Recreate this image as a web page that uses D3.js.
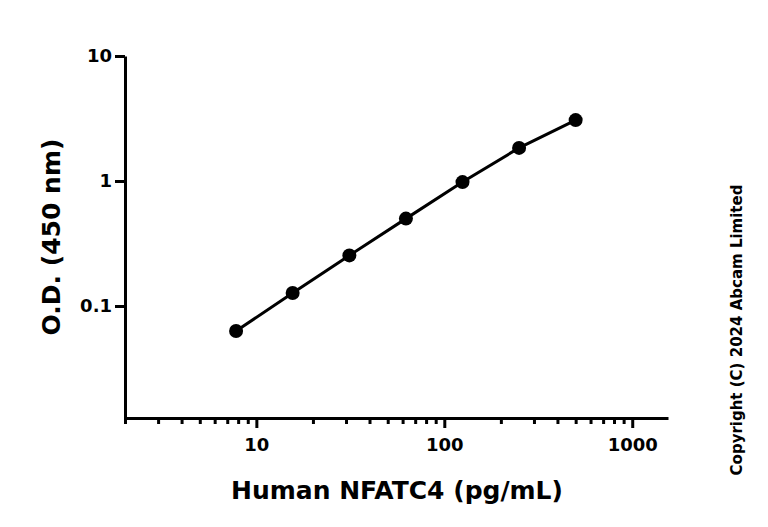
<!DOCTYPE html>
<html><head><meta charset="utf-8">
<script src="https://cdn.jsdelivr.net/npm/d3@7"></script>
<style>body{margin:0;background:#fff}text{font-family:"DejaVu Sans",sans-serif;font-weight:bold}</style>
</head><body><div id="chart"></div>
<script>
const conc = [7.8, 15.6, 31.25, 62.5, 125, 250, 500];
const od = [0.063, 0.127, 0.254, 0.50, 0.98, 1.84, 3.07];
const xTicks = [10, 100, 1000];
const yTicks = [0.1, 1, 10];

const svg = d3.select("#chart").append("svg").attr("width", 768).attr("height", 527);
const x = d3.scaleLog().domain([2, 1550]).range([125, 668]);
const y = d3.scaleLog().domain([0.0127, 10]).range([418, 56]);

const minor = [];
[1, 10, 100, 1000].forEach(d => { for (let k = 2; k <= 9; k++) { const v = d * k; if (v >= 2 && v <= 1550) minor.push(v); } });

const xa = svg.append("g").attr("transform", "translate(0,418)")
    .call(d3.axisBottom(x).tickValues(xTicks).tickFormat(d3.format("d")).tickSize(10).tickSizeOuter(0));
svg.append("g").attr("transform", "translate(0,418)")
    .call(d3.axisBottom(x).tickValues(minor).tickFormat("").tickSize(6).tickSizeOuter(0))
    .select(".domain").remove();
const ya = svg.append("g").attr("transform", "translate(125,0)")
    .call(d3.axisLeft(y).tickValues(yTicks).tickFormat(d => d >= 1 ? d3.format("d")(d) : d).tickSize(10).tickSizeOuter(0));
svg.selectAll(".domain, .tick line").attr("stroke", "#000").attr("stroke-width", 3);
svg.selectAll(".tick text").attr("font-size", 18).attr("fill", "#000");
xa.selectAll(".tick text").attr("dy", "1.1em");

const line = d3.line().x((d, i) => x(conc[i])).y(d => y(d));
svg.append("path").datum(od).attr("d", line).attr("fill", "none").attr("stroke", "#000").attr("stroke-width", 3);
svg.selectAll("circle.pt").data(od).enter().append("circle")
    .attr("cx", (d, i) => x(conc[i])).attr("cy", d => y(d)).attr("r", 7).attr("fill", "#000");

svg.append("text").attr("x", 397).attr("y", 499).attr("text-anchor", "middle")
    .attr("font-size", 25).text("Human NFATC4 (pg/mL)");
svg.append("text").attr("transform", "translate(60,237) rotate(-90)").attr("text-anchor", "middle")
    .attr("font-size", 25).text("O.D. (450 nm)");
svg.append("text").attr("transform", "translate(742,330) rotate(-90)").attr("text-anchor", "middle")
    .attr("font-size", 15).text("Copyright (C) 2024 Abcam Limited");
</script></body></html>
